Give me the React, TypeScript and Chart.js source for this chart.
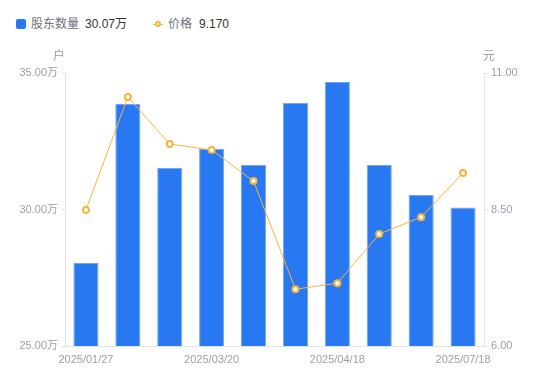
import React, { useEffect, useRef } from "react";
import { Chart, registerables } from "chart.js";

Chart.register(...registerables);

const dates = [
  "2025/01/27", "2025/02/20", "2025/03/10", "2025/03/20", "2025/03/31",
  "2025/04/10", "2025/04/18", "2025/05/20", "2025/06/30", "2025/07/18",
];
const holders = [28.04, 33.86, 31.52, 32.22, 31.63, 33.9, 34.67, 31.63, 30.53, 30.07];
const prices = [8.49, 10.56, 9.7, 9.59, 9.02, 7.04, 7.15, 8.05, 8.36, 9.17];
const leftTicks = [25, 30, 35];
const rightTicks = [6, 8.5, 11];

const FONT = "'Liberation Sans', 'Noto Sans CJK SC', sans-serif";
const GRAY = "#9b9eab";
const LINE = "#e3e4ea";
const BLUE = "#2878f2";
const ORANGE = "#f8b43c";

const titlePlugin = {
  id: "axisTitles",
  afterDraw(chart: any) {
    const { ctx, chartArea } = chart;
    ctx.save();
    ctx.font = `12px ${FONT}`;
    ctx.fillStyle = GRAY;
    ctx.textAlign = "center";
    ctx.textBaseline = "middle";
    ctx.fillText("户", chartArea.left - 6, chartArea.top - 16);
    ctx.fillText("元", chartArea.right + 5, chartArea.top - 16);
    ctx.restore();
  },
};

export default function App() {
  const ref = useRef<HTMLCanvasElement>(null);
  useEffect(() => {
    const chart = new Chart(ref.current!, {
      type: "bar",
      data: {
        labels: dates,
        datasets: [
          {
            type: "line",
            label: "价格",
            data: prices,
            yAxisID: "y1",
            borderColor: ORANGE,
            borderWidth: 1,
            pointRadius: 3,
            pointBorderWidth: 2,
            pointBackgroundColor: "#fff",
            pointBorderColor: ORANGE,
            order: 0,
          } as any,
          {
            type: "bar",
            label: "股东数量",
            data: holders,
            yAxisID: "y",
            backgroundColor: BLUE,
            borderColor: "#74a6f6",
            borderWidth: 1,
            barPercentage: 0.6,
            categoryPercentage: 1,
            order: 1,
          },
        ],
      },
      options: {
        responsive: false,
        animation: false,
        layout: { padding: { top: 73, left: 0, right: 0, bottom: 0 } },
        plugins: { legend: { display: false }, tooltip: { enabled: false } },
        scales: {
          x: {
            offset: true,
            grid: { display: false, drawTicks: false },
            border: { display: true, color: LINE },
            afterFit: (s: any) => { s.height = 35; },
            ticks: {
              autoSkip: false,
              maxRotation: 0,
              color: GRAY,
              font: { size: 11, family: FONT },
              padding: 7,
              callback: (_v: any, i: number) => (i % 3 === 0 ? dates[i] : ""),
            },
          },
          y: {
            position: "left",
            min: 25,
            max: 35,
            afterFit: (s: any) => { s.width = 65; },
            afterBuildTicks: (s: any) => { s.ticks = leftTicks.map((v) => ({ value: v })); },
            grid: { drawOnChartArea: false, drawTicks: true, tickLength: 4, color: LINE },
            border: { display: true, color: LINE },
            ticks: {
              color: GRAY,
              font: { size: 11, family: FONT },
              padding: 3,
              callback: (v: any) => Number(v).toFixed(2) + "万",
            },
          },
          y1: {
            position: "right",
            min: 6,
            max: 11,
            afterFit: (s: any) => { s.width = 66; },
            afterBuildTicks: (s: any) => { s.ticks = rightTicks.map((v) => ({ value: v })); },
            grid: { drawOnChartArea: false, drawTicks: true, tickLength: 4, color: LINE },
            border: { display: true, color: LINE },
            ticks: {
              color: GRAY,
              font: { size: 11, family: FONT },
              padding: 3,
              callback: (v: any) => Number(v).toFixed(2),
            },
          },
        },
      },
      plugins: [titlePlugin],
    });
    return () => chart.destroy();
  }, []);

  const txt = (left: number, color: string): React.CSSProperties => ({
    position: "absolute", left, top: 16, fontSize: 12, lineHeight: "16px", color, whiteSpace: "nowrap",
  });
  return (
    <div style={{ position: "absolute", left: 0, top: 0, width: 550, height: 381, background: "#fff", fontFamily: FONT }}>
      <span style={{ position: "absolute", left: 16, top: 19, width: 10, height: 10, background: BLUE, borderRadius: 2 }} />
      <span style={txt(31, "#6e717e")}>股东数量</span>
      <span style={txt(85, "#333")}>{holders[holders.length - 1].toFixed(2)}万</span>
      <span style={{ position: "absolute", left: 153, top: 23.5, width: 10, height: 1, background: ORANGE }} />
      <span style={{ position: "absolute", left: 155, top: 21, width: 2, height: 2, border: `2px solid ${ORANGE}`, borderRadius: "50%", background: "#fff" }} />
      <span style={txt(168, "#6e717e")}>价格</span>
      <span style={txt(199, "#333")}>{prices[prices.length - 1].toFixed(3)}</span>
      <canvas ref={ref} width={550} height={381} style={{ position: "absolute", left: 0, top: 0 }} />
    </div>
  );
}
